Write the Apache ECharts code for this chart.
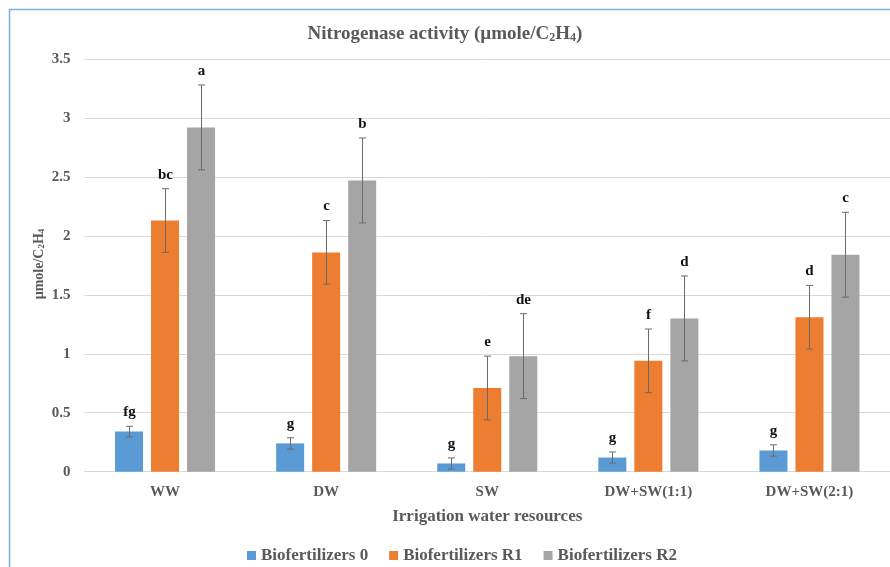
<!DOCTYPE html>
<html>
<head>
<meta charset="utf-8">
<script src="https://cdn.jsdelivr.net/npm/echarts@6/dist/echarts.min.js"></script>
<style>html,body{margin:0;padding:0;background:#fff}#c{width:890px;height:567px}</style>
</head>
<body>
<div id="c"></div>
<script>
var categories = ['WW', 'DW', 'SW', 'DW+SW(1:1)', 'DW+SW(2:1)'];
var seriesNames = ['Biofertilizers 0', 'Biofertilizers R1', 'Biofertilizers R2'];
var bio0 = [0.34, 0.24, 0.07, 0.12, 0.18];
var bioR1 = [2.13, 1.86, 0.71, 0.94, 1.31];
var bioR2 = [2.92, 2.47, 0.98, 1.30, 1.84];
var err0 = [0.045, 0.048, 0.047, 0.047, 0.048];
var errR1 = [0.27, 0.27, 0.27, 0.27, 0.27];
var errR2 = [0.36, 0.36, 0.36, 0.36, 0.36];
var letters0 = ['fg', 'g', 'g', 'g', 'g'];
var lettersR1 = ['bc', 'c', 'e', 'f', 'd'];
var lettersR2 = ['a', 'b', 'de', 'd', 'c'];
var yTicks = [0, 0.5, 1, 1.5, 2, 2.5, 3, 3.5];

var colors = ['#5B9BD5', '#ED7D31', '#A5A5A5'];
var values = [bio0, bioR1, bioR2];
var errs = [err0, errR1, errR2];
var letters = [letters0, lettersR1, lettersR2];
var FONT = '"Liberation Serif", "Times New Roman", serif';
var BAR_W = 28, BAR_GAP = 8;

var chart = echarts.init(document.getElementById('c'), null, {renderer: 'canvas'});

function errSeries(k) {
  var data = categories.map(function (c, i) { return [i, values[k][i], errs[k][i]]; });
  return {
    type: 'custom',
    name: seriesNames[k] + ' err',
    data: data,
    z: 10,
    silent: true,
    renderItem: function (params, api) {
      var i = api.value(0), v = api.value(1), e = api.value(2);
      var off = (k - 1) * (BAR_W + BAR_GAP);
      var top = api.coord([i, v + e]);
      var bot = api.coord([i, v - e]);
      var x = Math.round(top[0] + off) + 0.5;
      var cap = 3.5;
      var st = {stroke: '#6b6b6b', lineWidth: 1};
      return {
        type: 'group',
        children: [
          {type: 'line', shape: {x1: x, y1: top[1], x2: x, y2: bot[1]}, style: st},
          {type: 'line', shape: {x1: x - cap, y1: top[1], x2: x + cap, y2: top[1]}, style: st},
          {type: 'line', shape: {x1: x - cap, y1: bot[1], x2: x + cap, y2: bot[1]}, style: st},
          {type: 'text', x: x, y: top[1] - 14, style: {
            text: letters[k][params.dataIndex], fill: '#111', font: 'bold 15px ' + FONT,
            align: 'center', verticalAlign: 'middle'}}
        ]
      };
    }
  };
}

var series = [];
for (var k = 0; k < 3; k++) {
  series.push({
    type: 'bar', name: seriesNames[k], data: values[k], barWidth: BAR_W,
    barGap: (BAR_GAP / BAR_W * 100).toFixed(1) + '%',
    itemStyle: {color: colors[k]}
  });
}
for (var k2 = 0; k2 < 3; k2++) series.push(errSeries(k2));

var option = {
  animation: false,
  backgroundColor: '#fff',
  title: {
    text: 'Nitrogenase activity (µmole/C{s|2}H{s|4})',
    left: 'center', top: 19,
    textStyle: {
      fontFamily: FONT, fontWeight: 'bold', fontSize: 19, color: '#595959',
      rich: {s: {fontFamily: FONT, fontWeight: 'bold', fontSize: 12, color: '#595959', verticalAlign: 'bottom', padding: [8, 0, 0, 0]}}
    }
  },
  legend: {
    data: seriesNames, left: 242, top: 542, itemWidth: 9, itemHeight: 9, itemGap: 21,
    icon: 'rect',
    textStyle: {fontFamily: FONT, fontWeight: 'bold', fontSize: 17, color: '#595959'}
  },
  grid: {left: 84.5, right: -0.5, top: 59, bottom: 95.3, containLabel: false},
  xAxis: {
    type: 'category', data: categories,
    axisLine: {show: true, lineStyle: {color: '#D9D9D9'}},
    axisTick: {show: false},
    axisLabel: {fontFamily: FONT, fontWeight: 'bold', fontSize: 15, color: '#595959', margin: 13},
    name: 'Irrigation water resources', nameLocation: 'middle', nameGap: 36,
    nameTextStyle: {fontFamily: FONT, fontWeight: 'bold', fontSize: 17, color: '#595959'}
  },
  yAxis: {
    type: 'value', min: yTicks[0], max: yTicks[yTicks.length - 1], interval: 0.5,
    axisLine: {show: false}, axisTick: {show: false},
    splitLine: {lineStyle: {color: '#D9D9D9'}},
    axisLabel: {fontFamily: FONT, fontWeight: 'bold', fontSize: 15, color: '#595959', margin: 14}
  },
  graphic: [
    {type: 'rect', shape: {x: 9.5, y: 9.5, width: 1000, height: 1000},
      style: {fill: 'none', stroke: '#7EAEE0', lineWidth: 1.5}, z: 100, silent: true},
    {type: 'text', x: 39, y: 264, rotation: Math.PI / 2, silent: true,
      style: {text: 'µmole/C{s|2}H{s|4}', font: 'bold 14px ' + FONT, fill: '#595959',
        align: 'center', verticalAlign: 'middle',
        rich: {s: {font: 'bold 9px ' + FONT, fill: '#595959', verticalAlign: 'bottom', padding: [6, 0, 0, 0]}}}}
  ],
  series: series
};
chart.setOption(option);
</script>
</body>
</html>
